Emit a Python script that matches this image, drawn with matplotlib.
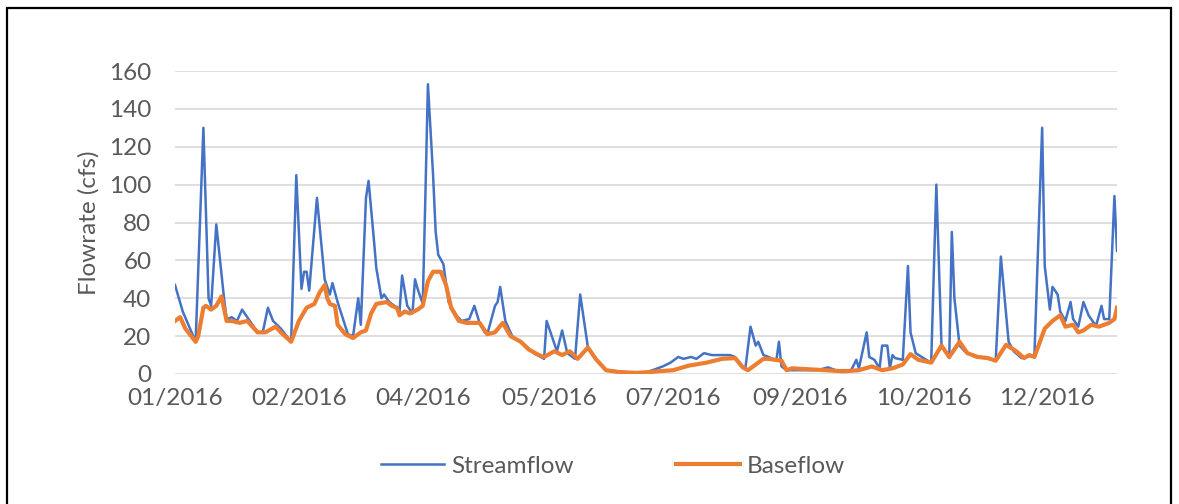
import matplotlib
matplotlib.use('Agg')
import matplotlib.pyplot as plt
from matplotlib.patches import Rectangle

plt.rcParams['font.family'] = ['Lato', 'DejaVu Sans']

# день от 01.01.2016 и расход (cfs)
stream_day = [0, 3, 8, 11, 13, 14, 16, 19, 20, 22, 24, 26, 29, 32, 34, 36, 38, 41, 45,
              47, 49, 50, 51, 52, 55, 58, 60, 61, 63, 67, 69, 71, 72, 74, 75, 77, 78, 80,
              81, 83, 85, 87, 88, 90, 92, 93, 94, 96, 97, 98, 100, 101, 102, 104, 106,
              109, 111, 114, 116, 118, 120, 121, 124, 125, 126, 128, 131, 135, 139, 143,
              144, 148, 150, 152, 155, 157, 160, 163, 167, 175, 183, 187, 189, 192, 195,
              197, 200, 202, 205, 208, 212, 215, 217, 220, 221, 223, 225, 226, 228, 230,
              233, 234, 235, 237, 240, 249, 253, 256, 262, 264, 265, 268, 269, 271, 273,
              274, 276, 277, 278, 279, 282, 284, 285, 287, 290, 293, 295, 297, 300, 301,
              302, 304, 306, 310, 314, 318, 320, 323, 325, 328, 333, 336, 337, 339, 340,
              342, 343, 345, 347, 348, 350, 352, 354, 356, 357, 359, 360, 362, 364, 365]
stream_cfs = [47, 33, 17, 130, 40, 36, 79, 40, 29, 30, 28, 34, 28, 22, 22, 35, 28, 24, 17,
              105, 45, 54, 54, 44, 93, 50, 42, 48, 38, 21, 20, 40, 26, 93, 102, 72, 56, 40,
              42, 38, 36, 33, 52, 36, 32, 50, 45, 37, 93, 153, 105, 75, 63, 58, 38,
              31, 28, 29, 36, 27, 22, 21, 36, 38, 46, 28, 19, 16, 11, 8,
              28, 12, 23, 11, 8, 42, 14, 8, 2, 1, 1, 3, 4, 6, 9,
              8, 9, 8, 11, 10, 10, 10, 9, 4, 3, 25, 15, 17, 10, 9,
              7, 17, 4, 2, 2, 2, 3.5, 2, 2, 7.5, 3, 22, 9, 7.5, 3,
              15, 15, 3, 10, 8.4, 7.5, 57, 22, 11, 8.4, 6, 100, 15, 8.4, 75,
              40, 15, 12, 9, 8.4, 7, 62, 17, 12, 8.4, 10, 130, 57, 34, 46,
              42, 33, 28, 38, 29, 25, 38, 31, 27, 26, 36, 29, 29, 94, 65]

base_day = [0, 2, 4, 8, 9, 11, 12, 14, 16, 18, 20, 22, 25, 28, 32, 35, 39, 41, 45, 48,
            51, 54, 56, 58, 59, 60, 62, 63, 66, 69, 72, 74, 76, 78, 82, 84, 86, 87, 89,
            91, 94, 96, 98, 100, 103, 105, 107, 110, 113, 116, 118, 121, 124, 127, 130,
            134, 137, 141, 143, 147, 150, 153, 156, 160, 163, 167, 172, 179, 187, 193,
            199, 206, 212, 217, 220, 222, 225, 228, 230, 235, 237, 239, 252, 259, 265,
            270, 274, 278, 282, 285, 288, 293, 297, 300, 302, 304, 307, 311, 315, 318,
            322, 326, 329, 331, 333, 337, 340, 343, 345, 348, 350, 352, 355, 358, 362,
            364, 365]
base_cfs = [28, 30, 24, 17, 20, 35, 36, 34, 36, 41, 28, 28, 27, 28, 22, 22, 25, 22, 17, 28,
            35, 37, 43, 47, 40, 37, 36, 26, 21, 19, 22, 23, 32, 37, 38, 36, 35, 31, 33,
            32, 34, 36, 49, 54, 54, 47, 35, 28, 27, 27, 27, 21, 22, 27, 20,
            17, 13, 10, 9, 12, 10, 12, 8, 14, 8, 2, 1, 0.5, 1.4, 2,
            4.4, 6, 8, 8.4, 3.5, 2, 5, 8, 8, 7, 2, 3, 2, 1.4, 2,
            4, 2, 3, 5, 10.5, 7.5, 6, 15, 9, 13, 17, 11, 9, 8.4, 7,
            15.4, 12, 8.4, 10, 9, 24, 28, 31, 25, 26, 22, 23, 26, 25, 27,
            29, 35]

tick_day = [0, 48, 96, 145, 193, 242, 290, 338]
tick_labels = ['01/2016', '02/2016', '04/2016', '05/2016',
               '07/2016', '09/2016', '10/2016', '12/2016']

fig = plt.figure(figsize=(11.79, 5.04), dpi=100)
ax = fig.add_axes([175 / 1179, 130 / 504, 942 / 1179, 303 / 504])

ax.plot(stream_day, stream_cfs, color='#4472C4', lw=1.8, label='Streamflow')
ax.plot(base_day, base_cfs, color='#ED7D31', lw=3.0, label='Baseflow',
        solid_joinstyle='round')

ax.set_xlim(0, 365)
ax.set_ylim(0, 160)
ax.set_yticks(range(0, 161, 20))
ax.set_xticks(tick_day)
ax.set_xticklabels(tick_labels)
ax.yaxis.grid(True, color='#D9D9D9', lw=1.2)
ax.set_axisbelow(True)
for s in ax.spines.values():
    s.set_visible(False)
ax.tick_params(axis='both', length=0, labelsize=17.5, colors='#595959')
ax.tick_params(axis='y', pad=17)
ax.tick_params(axis='x', pad=10)
ax.set_ylabel('Flowrate (cfs)', fontsize=17.5, color='#595959', labelpad=7)

fig.legend(loc='center', bbox_to_anchor=(0.52, 0.075), ncol=2, frameon=False,
           fontsize=17.5, labelcolor='#595959', handlelength=2.6,
           handletextpad=0.3, columnspacing=4.2)

# рамка вокруг рисунка
fig.add_artist(Rectangle((7 / 1179, -0.05), (1171 - 7) / 1179, 1.05 - 8 / 504,
                         transform=fig.transFigure, fill=False,
                         edgecolor='black', lw=1.6))

fig.savefig('out.png', dpi=100)
